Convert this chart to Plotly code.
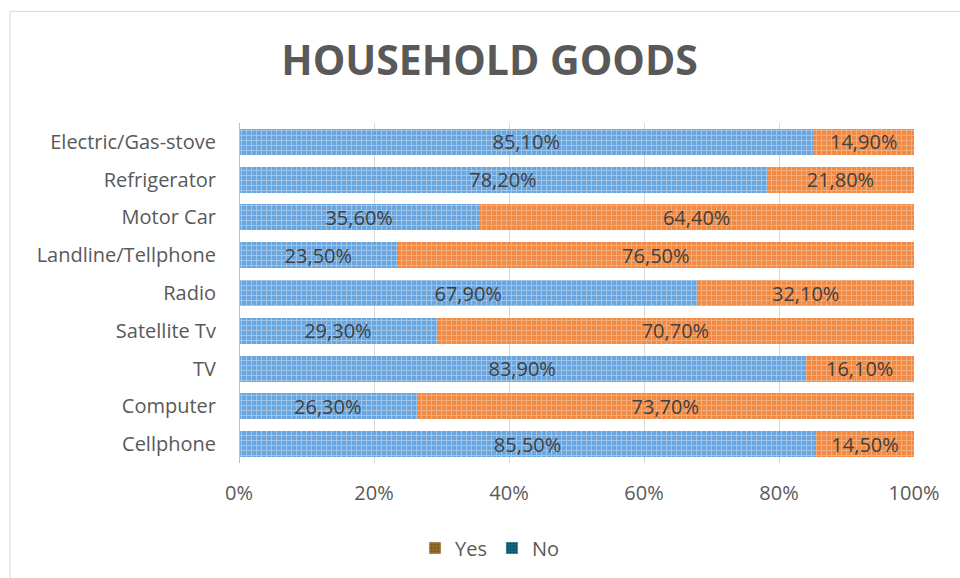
import plotly.graph_objects as go

categories = ["Electric/Gas-stove", "Refrigerator", "Motor Car", "Landline/Tellphone",
              "Radio", "Satellite Tv", "TV", "Computer", "Cellphone"]
yes_values = [85.1, 78.2, 35.6, 23.5, 67.9, 29.3, 83.9, 26.3, 85.5]
no_values = [14.9, 21.8, 64.4, 76.5, 32.1, 70.7, 16.1, 73.7, 14.5]
x_ticks = [0, 20, 40, 60, 80, 100]
x_tick_labels = ["0%", "20%", "40%", "60%", "80%", "100%"]

def fmt(v):
    return f"{v:.2f}".replace(".", ",") + "%"

FONT = "Open Sans"
fig = go.Figure()
fig.add_trace(go.Bar(
    y=categories, x=yes_values, orientation="h", name="Yes", showlegend=False,
    text=[fmt(v) for v in yes_values], textposition="inside", insidetextanchor="middle",
    constraintext="none",
    textfont=dict(family=FONT, size=20, color="#404040"),
    marker=dict(color="#6aa5de", line=dict(width=0),
                pattern=dict(shape="+", fgcolor="#d5e6f8", size=5, solidity=0.35, fillmode="overlay")),
))
fig.add_trace(go.Bar(
    y=categories, x=no_values, orientation="h", name="No", showlegend=False,
    text=[fmt(v) for v in no_values], textposition="inside", insidetextanchor="middle",
    constraintext="none",
    textfont=dict(family=FONT, size=20, color="#404040"),
    marker=dict(color="#f08a45", line=dict(width=0),
                pattern=dict(shape="+", fgcolor="#fad0b0", size=5, solidity=0.35, fillmode="overlay")),
))
# legend-only entries (Excel legend swatches use darker colours)
fig.add_trace(go.Bar(y=[None], x=[None], orientation="h", name="Yes",
                     marker=dict(color="#7a5a20", pattern=dict(shape="+", fgcolor="#e09a40", size=4, solidity=0.4))))
fig.add_trace(go.Bar(y=[None], x=[None], orientation="h", name="No",
                     marker=dict(color="#0f6f8a", pattern=dict(shape="+", fgcolor="#101820", size=4, solidity=0.4))))

fig.update_layout(
    barmode="stack", bargap=0.31,
    width=960, height=578,
    margin=dict(l=239, r=46, t=123, b=114),
    paper_bgcolor="white", plot_bgcolor="white",
    title=dict(text="<b>HOUSEHOLD GOODS</b>", x=0.51, xanchor="center", y=1 - 61 / 578, yanchor="middle",
               font=dict(family=FONT, size=41, color="#595959")),
    xaxis=dict(range=[0, 100], tickvals=x_ticks, ticktext=x_tick_labels,
               showgrid=True, gridcolor="#d9d9d9", gridwidth=1, zeroline=False,
               showline=False, ticks="", ticklabelstandoff=16,
               tickfont=dict(family=FONT, size=20, color="#595959")),
    yaxis=dict(autorange="reversed", showgrid=False, zeroline=False, showline=False, ticks="",
               ticklabelstandoff=22,
               tickfont=dict(family=FONT, size=20, color="#595959")),
    legend=dict(orientation="h", x=(490 - 239) / 675, xanchor="center", y=(464 - 548) / 341, yanchor="middle",
                font=dict(family=FONT, size=20, color="#595959"), itemwidth=30, traceorder="normal"),
    shapes=[
        dict(type="rect", xref="paper", yref="paper",
             x0=(10 - 239) / 675, x1=(968 - 239) / 675, y0=(464 - 590) / 341, y1=(464 - 11) / 341,
             line=dict(color="#d9d9d9", width=1), fillcolor="rgba(0,0,0,0)", layer="below"),
        dict(type="line", xref="x", yref="paper", x0=0, x1=0, y0=0, y1=1,
             line=dict(color="#bfbfbf", width=2), layer="above"),
    ],
)
fig.write_html("out.html")
